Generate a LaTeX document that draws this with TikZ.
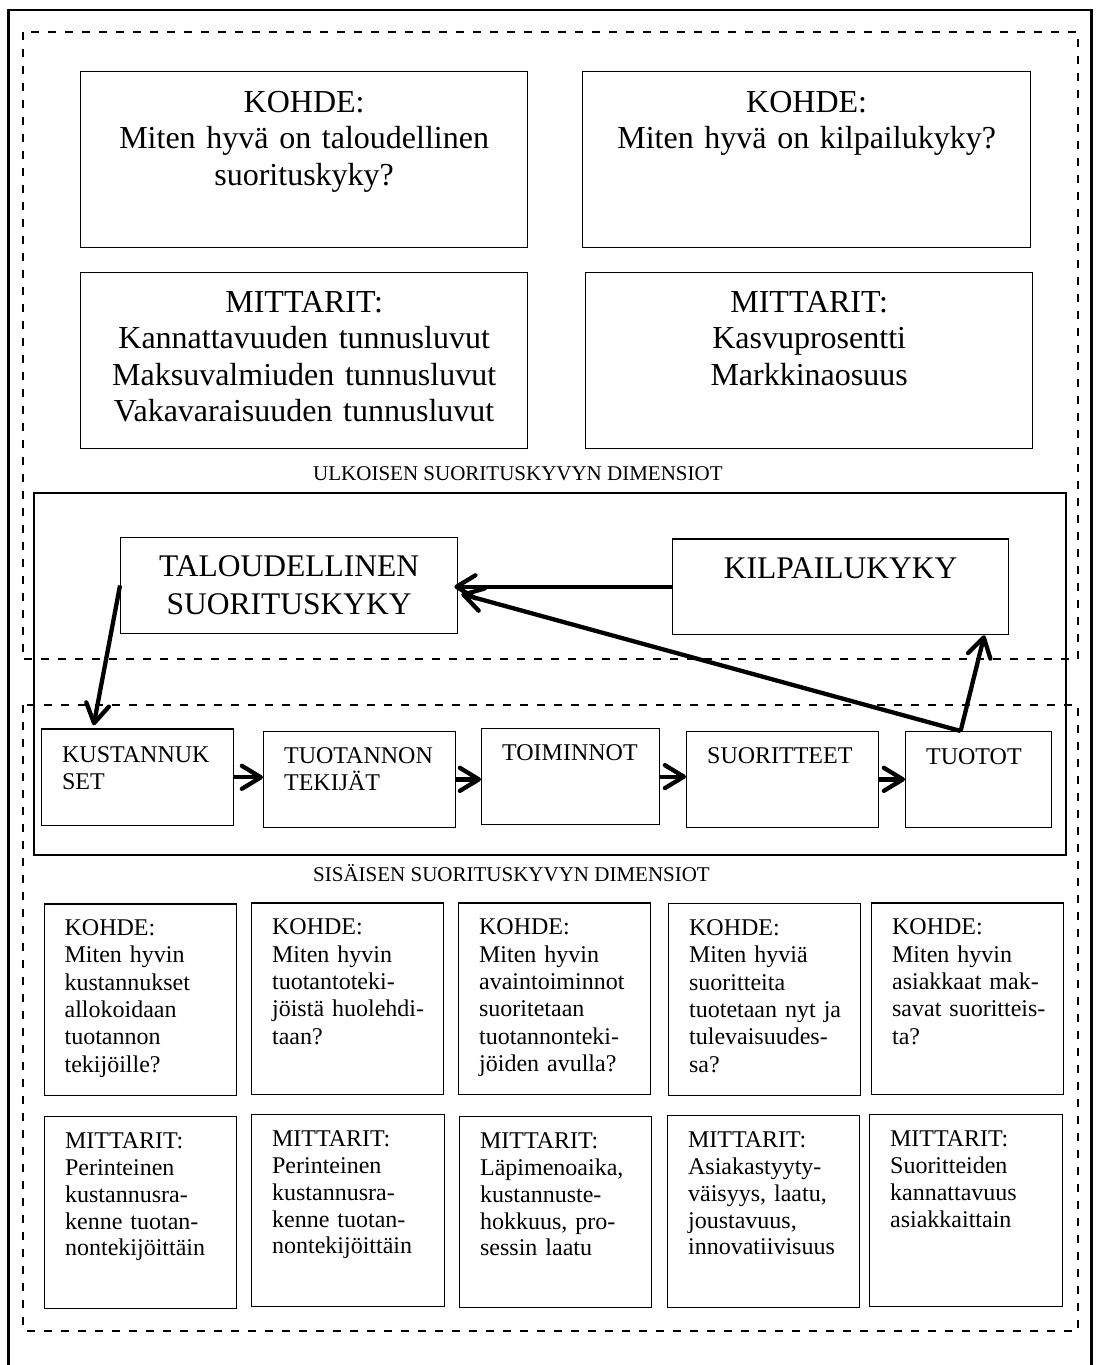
\documentclass[tikz,border=0pt]{standalone}
\usepackage{fontspec}
\setmainfont{Liberation Serif}
\usetikzlibrary{arrows.meta,calc}
% type sizes (1pt = one unit of the drawing grid)
\newcommand\fbig{\fontsize{32}{36.5}\selectfont}
\newcommand\fmid{\fontsize{31.5}{38.6}\selectfont}
\newcommand\fchain{\fontsize{24}{26.7}\selectfont}
\newcommand\fcell{\fontsize{24}{27.3}\selectfont}
\newcommand\flab{\fontsize{21}{24}\selectfont}
\begin{document}
\begin{tikzpicture}[x=1pt,y=-1pt,
  box/.style={draw, line width=1.3pt, inner ysep=0pt, anchor=north west},
  cbox/.style={box, align=center, inner xsep=8pt},
  lbox/.style={box, align=left, inner xsep=20.5pt},
  flow/.style={line width=4.3pt, -{Straight Barb[length=19pt,width=23pt,round]}},
  zone/.style={dash pattern=on 8pt off 9pt, line width=2pt},
  lab/.style={anchor=base west, inner sep=0pt, font=\flab}
]
\useasboundingbox (0,0) rectangle (1099,1365);

% frames
\draw[line width=2.7pt] (8.5,1370) -- (8.5,10) -- (1091.5,10) -- (1091.5,1370);
\draw[zone] (22.7,31.7) rectangle (1078,659);
\draw[zone] (22.7,705.3) rectangle (1078,1330.5);
\draw[line width=2pt] (34,493.3) rectangle (1066,855);

% external dimensions
\node[cbox, font=\fbig, text width=431pt, text height=41pt, text depth=135pt] (k1) at (80,70.7)
  {KOHDE:\\Miten hyvä on taloudellinen\\suorituskyky?};
\node[cbox, font=\fbig, text width=432pt, text height=41pt, text depth=135pt] (k2) at (582,70.7)
  {KOHDE:\\Miten hyvä on kilpailukyky?};
\node[cbox, font=\fbig, text width=431pt, text height=40pt, text depth=136pt] (m1) at (80,271.7)
  {MITTARIT:\\Kannattavuuden tunnusluvut\\Maksuvalmiuden tunnusluvut\\Vakavaraisuuden tunnusluvut};
\node[cbox, font=\fbig, text width=431pt, text height=40pt, text depth=136pt] (m2) at (585,271.7)
  {MITTARIT:\\Kasvuprosentti\\Markkinaosuus};
\node[lab] (ulk) at (313,480) {ULKOISEN SUORITUSKYVYN DIMENSIOT};

% performance boxes
\node[cbox, font=\fmid, text width=321pt, text height=39pt, text depth=57.3pt] (tb) at (120,536.7)
  {TALOUDELLINEN\\SUORITUSKYKY};
\node[cbox, font=\fmid, text width=320pt, text height=40pt, text depth=55.7pt] (kb) at (672,538.3)
  {KILPAILUKYKY};

% value chain
\node[lbox, font=\fchain, text width=151pt, text height=33.4pt, text depth=63.3pt] (c1) at (41,728.3)
  {KUSTANNUK\\SET};
\node[lbox, font=\fchain, text width=151pt, text height=32.6pt, text depth=63.4pt] (c2) at (263,730.7)
  {TUOTANNON\\TEKIJÄT};
\node[lbox, font=\fchain, text width=137pt, text height=32pt, text depth=64pt] (c3) at (481,728)
  {TOIMINNOT};
\node[lbox, font=\fchain, text width=151pt, text height=32pt, text depth=64pt] (c4) at (686,730.7)
  {SUORITTEET};
\node[lbox, font=\fchain, text width=105pt, text height=33pt, text depth=62.7pt] (c5) at (905,731)
  {TUOTOT};
\node[lab] (sis) at (313,881) {SISÄISEN SUORITUSKYVYN DIMENSIOT};

% internal dimensions: targets
\node[lbox, font=\fcell, text width=151.5pt, text height=31.7pt, text depth=160pt] (q1) at (43.5,903.3)
  {KOHDE:\\\mbox{Miten hyvin}\\kustannukset\\allokoidaan\\tuotannon\\tekijöille?};
\node[lbox, font=\fcell, text width=151pt, text height=32pt, text depth=159.7pt] (q2) at (251,902.3)
  {KOHDE:\\\mbox{Miten hyvin}\\\mbox{tuotantoteki-}\\\mbox{jöistä huolehdi-}\\taan?};
\node[lbox, font=\fcell, text width=151pt, text height=32pt, text depth=159.7pt] (q3) at (458,902.3)
  {KOHDE:\\\mbox{Miten hyvin}\\avaintoiminnot\\suoritetaan\\\mbox{tuotannonteki-}\\\mbox{jöiden avulla?}};
\node[lbox, font=\fcell, text width=151pt, text height=32pt, text depth=160pt] (q4) at (668,903)
  {KOHDE:\\\mbox{Miten hyviä}\\suoritteita\\\mbox{tuotetaan nyt ja}\\\mbox{tulevaisuudes-}\\sa?};
\node[lbox, font=\fcell, text width=151pt, text height=32pt, text depth=159.7pt] (q5) at (871,902.3)
  {KOHDE:\\\mbox{Miten hyvin}\\\mbox{asiakkaat mak-}\\\mbox{savat suoritteis-}\\ta?};

% internal dimensions: measures
\node[lbox, font=\fchain, text width=151pt, text height=32.3pt, text depth=159.4pt] (r1) at (44,1116)
  {MITTARIT:\\Perinteinen\\\mbox{kustannusra-}\\\mbox{kenne tuotan-}\\nontekijöittäin};
\node[lbox, font=\fchain, text width=152pt, text height=32.3pt, text depth=159.4pt] (r2) at (251,1114)
  {MITTARIT:\\Perinteinen\\\mbox{kustannusra-}\\\mbox{kenne tuotan-}\\nontekijöittäin};
\node[lbox, font=\fchain, text width=151pt, text height=32.3pt, text depth=158.7pt] (r3) at (459,1116)
  {MITTARIT:\\Läpimenoaika,\\\mbox{kustannuste-}\\\mbox{hokkuus, pro-}\\\mbox{sessin laatu}};
\node[lbox, font=\fchain, text width=151pt, text height=32.3pt, text depth=159.4pt] (r4) at (667,1115)
  {MITTARIT:\\\mbox{Asiakastyyty-}\\\mbox{väisyys, laatu,}\\joustavuus,\\innovatiivisuus};
\node[lbox, font=\fchain, text width=151.5pt, text height=32.3pt, text depth=159.7pt] (r5) at (869,1114)
  {MITTARIT:\\Suoritteiden\\kannattavuus\\asiakkaittain};

% connectors
\coordinate (t5) at ([xshift=-18pt]c5.north);
\draw[flow] (kb.west) -- ($(kb.west -| tb.east)+(-4,0)$);
\draw[flow] (t5) -- ($(tb.east)+(3,8.5)$);
\draw[flow] (t5) -- ($(kb.south east)+(-25,0)$);
\draw[flow] (tb.west) -- ($(c1.north)+(-44,-3)$);
\draw[flow] (c1.east) -- (c1.east -| c2.west);
\draw[flow] (c2.east) -- (c2.east -| c3.west);
\draw[flow] (c3.east) -- (c3.east -| c4.west);
\draw[flow] (c4.east) -- (c4.east -| c5.west);
\end{tikzpicture}
\end{document}
